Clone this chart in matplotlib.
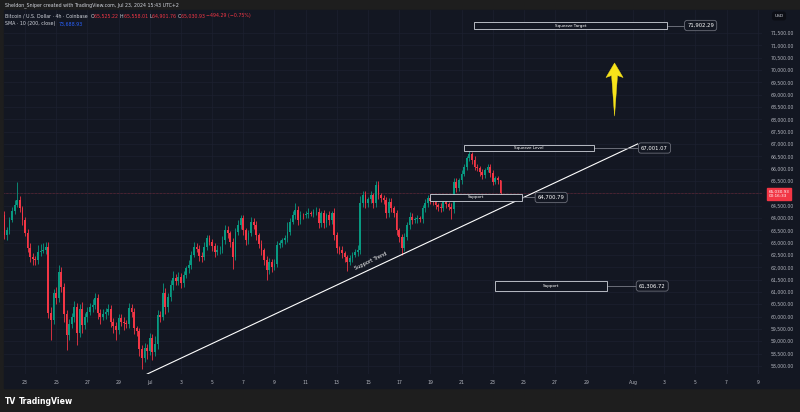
import matplotlib.pyplot as plt
import matplotlib.transforms as mtransforms
from matplotlib.patches import Rectangle, Polygon
import numpy as np
import pandas as pd

# ---- data (4h candles, BTC/USD Coinbase) ----
first_open = 64120
closes = [
    63300, 63500, 63920, 64300, 64525, 64730, 64400, 63920, 63400, 62780, 62420, 62350,
    62300, 62620, 62680, 62700, 62830, 60150, 59860, 60950, 60750, 61810, 61200, 60100,
    59250, 59700, 60000, 60390, 59330, 60300, 59650, 60000, 60200, 60390, 60450, 60750,
    60150, 60000, 60100, 60200, 60300, 59780, 59600, 59460, 59940, 59800, 59750, 59700,
    60350, 60200, 59530, 59400, 58700, 58320, 58720, 58600, 59130, 58560, 58900, 60070,
    60000, 60950, 60400, 60800, 61280, 61565, 61430, 61620, 61350, 61700, 61970, 62100,
    62500, 62830, 62750, 62450, 62430, 62835, 63175, 63040, 62850, 62630, 62700, 62720,
    63100, 63510, 63380, 63040, 62430, 63440, 63710, 63985, 63500, 63105, 63380, 63850,
    63715, 63310, 62950, 62700, 62295, 61890, 62230, 62025, 62150, 62900, 62970, 63100,
    63175, 63440, 63850, 64100, 64320, 63915, 64120, 64100, 64150, 64190, 64170, 64230,
    64255, 63780, 64190, 63780, 64120, 63915, 64190, 63300, 62770, 62700, 62565, 62400,
    62230, 62360, 62500, 62600, 62700, 64590, 64930, 64590, 64750, 64930, 64590, 65335,
    64930, 64800, 64730, 64190, 64660, 64400, 64190, 63510, 63240, 62800, 63240, 63700,
    64050, 63915, 63950, 63985, 63950, 64390, 64600, 64795, 64700, 64660, 64525, 64450,
    64390, 64660, 64560, 64460, 64350, 65470, 65200, 65540, 65800, 66080, 66420, 66590,
    66350, 66080, 66010, 65850, 65740, 65945, 66080, 65810, 65470, 65600, 65525.22, 65030.93,
]
wick_up = [
    150, 120, 100, 150, 200, 730, 150, 100, 120, 150, 200, 150,
    100, 300, 250, 300, 200, 200, 250, 150, 250, 300, 200, 150,
    150, 200, 150, 250, 150, 200, 300, 150, 200, 150, 250, 200,
    150, 150, 200, 150, 200, 150, 150, 200, 150, 150, 200, 100,
    200, 150, 150, 100, 150, 150, 200, 150, 200, 150, 300, 200,
    150, 400, 200, 150, 200, 300, 150, 200, 150, 150, 100, 200,
    150, 200, 150, 150, 150, 200, 150, 150, 100, 150, 200, 150,
    150, 200, 150, 100, 150, 150, 200, 150, 150, 100, 150, 200,
    150, 150, 100, 150, 100, 150, 150, 100, 200, 150, 150, 100,
    150, 400, 150, 200, 300, 150, 150, 100, 150, 200, 100, 150,
    200, 150, 100, 150, 100, 150, 100, 200, 150, 100, 150, 100,
    100, 150, 100, 150, 200, 300, 150, 150, 100, 150, 100, 150,
    150, 100, 150, 100, 150, 150, 100, 150, 100, 100, 150, 150,
    200, 150, 100, 150, 100, 150, 150, 150, 100, 150, 100, 100,
    150, 100, 150, 100, 150, 150, 150, 100, 150, 100, 100, 120,
    100, 150, 100, 100, 150, 100, 100, 100, 150, 100, 100, 33,
]
wick_dn = [
    150, 200, 150, 100, 150, 100, 150, 200, 150, 150, 200, 250,
    200, 150, 150, 100, 150, 200, 800, 150, 250, 150, 200, 300,
    600, 200, 150, 200, 500, 150, 300, 150, 200, 150, 200, 150,
    250, 300, 150, 200, 150, 200, 250, 400, 150, 200, 300, 150,
    150, 200, 250, 200, 300, 450, 150, 300, 150, 300, 150, 200,
    200, 150, 300, 200, 150, 200, 150, 150, 200, 150, 150, 200,
    150, 100, 150, 200, 200, 150, 150, 150, 200, 200, 150, 150,
    150, 150, 200, 200, 500, 150, 150, 150, 200, 200, 150, 100,
    150, 200, 150, 200, 200, 400, 150, 200, 150, 150, 100, 150,
    150, 150, 150, 100, 150, 200, 150, 150, 100, 150, 100, 150,
    100, 200, 150, 200, 150, 200, 150, 200, 200, 150, 200, 200,
    400, 150, 150, 100, 150, 150, 150, 200, 150, 150, 200, 150,
    150, 150, 150, 200, 150, 150, 150, 200, 200, 300, 150, 150,
    150, 150, 100, 150, 100, 150, 150, 150, 150, 150, 150, 150,
    150, 100, 150, 150, 400, 150, 150, 100, 150, 100, 150, 100,
    150, 150, 100, 150, 150, 100, 100, 150, 150, 100, 150, 129,
]
times = pd.date_range('2024-06-21 16:00', periods=len(closes), freq='4h')

last_price = 65030.93
price_ticks = np.arange(58000, 72000, 500)
date_ticks = ['2024-06-23', '2024-06-25', '2024-06-27', '2024-06-29', '2024-07-01',
              '2024-07-03', '2024-07-05', '2024-07-07', '2024-07-09', '2024-07-11',
              '2024-07-13', '2024-07-15', '2024-07-17', '2024-07-19', '2024-07-21',
              '2024-07-23', '2024-07-25', '2024-07-27', '2024-07-29', '2024-08-01',
              '2024-08-03', '2024-08-05', '2024-08-07', '2024-08-09']
date_labels = ['23', '25', '27', '29', 'Jul', '3', '5', '7', '9', '11', '13', '15',
               '17', '19', '21', '23', '25', '27', '29', 'Aug', '3', '5', '7', '9']

# drawn zones: (text, start date, end date, low, high, price label, label date)
zones = [
    ('Squeeze Target', '2024-07-21 19:00', '2024-08-03 04:00', 71662, 71946, '71,902.29', '2024-08-05 08:00'),
    ('Squeeze Level', '2024-07-21 04:00', '2024-07-29 12:00', 66715, 66958, '67,001.07', '2024-08-02 09:00'),
    ('Support', '2024-07-18 23:30', '2024-07-24 21:00', 64688, 64972, '64,700.79', '2024-07-26 18:00'),
    ('Support', '2024-07-23 04:00', '2024-07-30 08:00', 61038, 61444, '61,306.72', '2024-08-02 05:30'),
]
trend_start = ('2024-06-30 20:00', 57670)
trend_end = ('2024-08-01 07:00', 67001.07)
arrow_base = ('2024-07-30 19:30', 68130)
arrow_tip = ('2024-07-30 19:30', 70285)

BG = '#131722'
GREEN = '#089981'
RED = '#f23645'
TXT = '#b2b5be'
t0 = pd.Timestamp('2024-06-23')


def dnum(t):
    return (pd.Timestamp(t) - t0) / pd.Timedelta(days=1)


fig = plt.figure(figsize=(8, 4.12), dpi=100)
fig.patch.set_facecolor('#1e1e1e')
fig.add_artist(Rectangle((4 / 800, 24 / 412), 796 / 800, 378 / 412,
                         transform=fig.transFigure, color=BG, zorder=0))
ax = fig.add_axes([4 / 800, 38 / 412, 758 / 800, 364 / 412])
ax.set_facecolor(BG)

# candles
x = np.array([dnum(t) for t in times])
c = np.array(closes, dtype=float)
o = np.concatenate([[first_open], c[:-1]])
top = np.maximum(o, c)
bot = np.minimum(o, c)
cols = [GREEN if cc >= oo else RED for oo, cc in zip(o, c)]
ax.vlines(x, bot - np.array(wick_dn), top + np.array(wick_up), colors=cols, lw=0.6, zorder=3)
ax.bar(x, np.maximum(top - bot, 15), bottom=bot, width=0.115, color=cols, zorder=4)

ax.set_xlim(-1.347, 47.27)
ax.set_ylim(57672, 72433)

# the 65,000 label sits under the last-price tag, so it is left blank
ax.set_yticks(price_ticks)
ax.set_yticklabels(['' if p == 65000 else f'{p:,.2f}' for p in price_ticks])
ax.yaxis.tick_right()
ax.set_xticks([dnum(t) for t in date_ticks])
ax.set_xticklabels(date_labels)
ax.tick_params(axis='both', length=0, labelsize=3.3, labelcolor=TXT)
ax.tick_params(axis='y', pad=6)
ax.tick_params(axis='x', pad=4.5)
ax.grid(True, color='#1c2030', lw=0.5, zorder=0)
for s in ax.spines.values():
    s.set_visible(False)

# current price line
ax.axhline(last_price, color=RED, lw=0.4, ls=(0, (1, 1.5)), alpha=0.7, zorder=2)

# trend line
ax.plot([dnum(trend_start[0]), dnum(trend_end[0])], [trend_start[1], trend_end[1]],
        color='white', lw=0.8, zorder=6)
ax.text(dnum('2024-07-15 05:00'), 62255, 'Support Trend', color='white', fontsize=3.6,
        rotation=25.8, ha='center', va='center', rotation_mode='anchor', zorder=7)

# zones + price labels
for name, a, b, lo, hi, lab, ld in zones:
    xa, xb = dnum(a), dnum(b)
    ax.add_patch(Rectangle((xa, lo), xb - xa, hi - lo, facecolor=BG, edgecolor='#d1d4dc',
                           lw=0.6, zorder=7))
    ax.text((xa + xb) / 2, (lo + hi) / 2, name, color='white', fontsize=3.0,
            ha='center', va='center', zorder=8)
    mid = (lo + hi) / 2
    ax.plot([xb, dnum(ld) - 0.9], [mid, mid], color='#787b86', lw=0.6, zorder=6)
    ax.text(dnum(ld), mid, lab, color='white', fontsize=3.8, ha='center', va='center', zorder=9,
            bbox=dict(boxstyle='round,pad=0.5,rounding_size=0.5', fc=BG, ec='#6a6d78', lw=0.6))

# yellow arrow
ax_d = dnum(arrow_base[0])
head = 590
arrow = Polygon([(ax_d, arrow_tip[1]), (ax_d + 0.55, arrow_tip[1] - head),
                 (ax_d + 0.19, arrow_tip[1] - head + 80), (ax_d, arrow_base[1]),
                 (ax_d - 0.19, arrow_tip[1] - head + 80), (ax_d - 0.55, arrow_tip[1] - head)],
                closed=True, facecolor='#f7e31a', edgecolor='#f7e31a', lw=0.3, zorder=8)
ax.add_patch(arrow)

# last price tag on the axis
bt = mtransforms.blended_transform_factory(ax.transAxes, ax.transData)
ax.text(1.0085, last_price - 60, '65,030.93\n00:16:33', transform=bt, color='white',
        fontsize=3.0, ha='left', va='center', linespacing=1.1, zorder=10, clip_on=False,
        bbox=dict(boxstyle='square,pad=0.35', fc=RED, ec=RED))

# USD tag
fig.text(779 / 800, 1 - 16 / 412, 'USD', color='#d1d4dc', fontsize=3.2, ha='center', va='center',
         bbox=dict(boxstyle='round,pad=0.4', fc='#0c0e15', ec='#0c0e15'))

# header lines
renderer = fig.canvas.get_renderer()


def seg_text(x_px, y_px, parts, size):
    xx = x_px
    for s, col in parts:
        t = fig.text(xx / 800, 1 - y_px / 412, s, color=col, fontsize=size, ha='left', va='center')
        xx += t.get_window_extent(renderer).width


seg_text(5, 5, [('Sheldon_Sniper created with TradingView.com, Jul 23, 2024 15:43 UTC+2', '#d1d4dc')], 3.4)
seg_text(5, 16, [('Bitcoin / U.S. Dollar · 4h · Coinbase  ', '#d1d4dc'),
                 ('O', '#d1d4dc'), ('65,525.22 ', RED), ('H', '#d1d4dc'), ('65,558.01 ', RED),
                 ('L', '#d1d4dc'), ('64,901.76 ', RED), ('C', '#d1d4dc'), ('65,030.93 ', RED),
                 ('−494.29 (−0.75%)', RED)], 3.4)
seg_text(5, 24, [('SMA · 10 (200, close)  ', '#d1d4dc'), ('73,688.93', '#2962ff')], 3.4)

# footer logo
fig.text(5 / 800, 1 - 401 / 412, 'TV', color='white', fontsize=5.5, fontweight='heavy',
         ha='left', va='center')
fig.text(19 / 800, 1 - 401 / 412, 'TradingView', color='white', fontsize=5.6,
         fontweight='semibold', ha='left', va='center')

fig.savefig('out.png', dpi=100, facecolor=fig.get_facecolor())
